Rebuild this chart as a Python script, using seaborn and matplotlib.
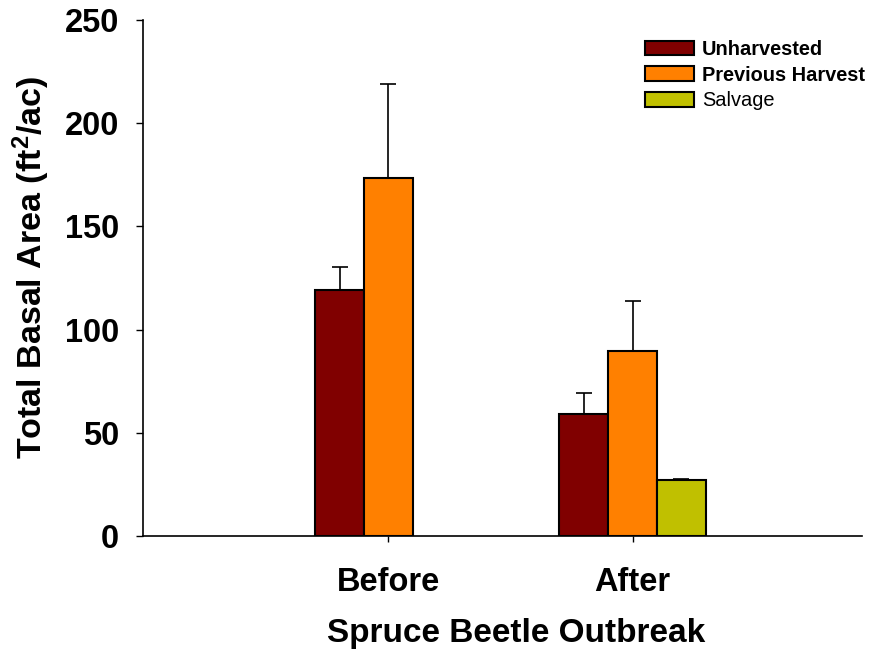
import numpy as np
import pandas as pd
import seaborn as sns
import matplotlib
matplotlib.use("Agg")
import matplotlib.pyplot as plt

# values
periods = ["Before", "Before", "After", "After", "After"]
treatments = ["Unharvested", "Previous Harvest", "Unharvested", "Previous Harvest", "Salvage"]
basal_area = [119.3, 173.4, 59.1, 89.8, 27.1]
std_err = [11.2, 45.6, 10.0, 24.1, 0.5]

treatment_order = ["Unharvested", "Previous Harvest", "Salvage"]
period_order = ["Before", "After"]
colors = ["#800000", "#FF8000", "#C0C000"]

df = pd.DataFrame({"period": periods, "treatment": treatments,
                   "ba": basal_area, "se": std_err})

sns.set_style("ticks")
plt.rcParams["font.family"] = ["Liberation Sans", "DejaVu Sans"]
plt.rcParams["mathtext.fontset"] = "custom"
plt.rcParams["mathtext.rm"] = "Liberation Sans:bold"
plt.rcParams["mathtext.default"] = "rm"
for k in ["text.color", "axes.labelcolor", "xtick.color", "ytick.color", "axes.edgecolor"]:
    plt.rcParams[k] = "black"

fig = plt.figure(figsize=(8.75, 6.51), dpi=100)
ax = fig.add_axes([0.1634, 0.1767, 0.8217, 0.7926])

sns.barplot(data=df, x="period", y="ba", hue="treatment",
            order=period_order, hue_order=treatment_order,
            palette=colors, width=0.6, errorbar=None,
            edgecolor="black", linewidth=1.5, saturation=1, ax=ax)

# one-sided error bars on top of each bar
for cont, trt in zip(ax.containers, treatment_order):
    sub = df[df.treatment == trt]
    for bar in cont:
        h = bar.get_height()
        if np.isnan(h):
            continue
        row = sub[np.isclose(sub.ba, h)]
        if row.empty:
            continue
        ax.errorbar(bar.get_x() + bar.get_width() / 2, h,
                    yerr=[[0], [row.se.iloc[0]]], fmt="none",
                    ecolor="black", elinewidth=1.2, capsize=5.8,
                    capthick=1.2, zorder=1)

ax.set_ylim(0, 250)
ax.set_xlim(-1.006, 1.94)
ax.set_yticks([0, 50, 100, 150, 200, 250])
sns.despine(ax=ax)
for s in ["left", "bottom"]:
    ax.spines[s].set_linewidth(1.2)

ax.tick_params(axis="y", length=5, width=1, pad=12, labelsize=23.5)
ax.tick_params(axis="x", length=4, width=1, pad=18.5, labelsize=23.5)
for lab in ax.get_xticklabels() + ax.get_yticklabels():
    lab.set_fontweight("bold")

ax.set_xlabel("Spruce Beetle Outbreak", fontsize=24, fontweight="bold", labelpad=14)
ax.set_ylabel("Total Basal Area (ft$^{2}$/ac)", fontsize=24.5, fontweight="bold", labelpad=9)
ax.xaxis.label.set_x(0.519)
ax.yaxis.label.set_y(0.52)

leg = ax.legend(title=None, loc="upper left", bbox_to_anchor=(0.698, 0.961),
                frameon=False, fontsize=14.4, handlelength=2.45, handleheight=0.75,
                handletextpad=0.4, labelspacing=0.33, borderpad=0, borderaxespad=0)
for txt in leg.get_texts():
    if txt.get_text() != "Salvage":
        txt.set_fontweight("bold")

fig.savefig("out.png", dpi=100)
